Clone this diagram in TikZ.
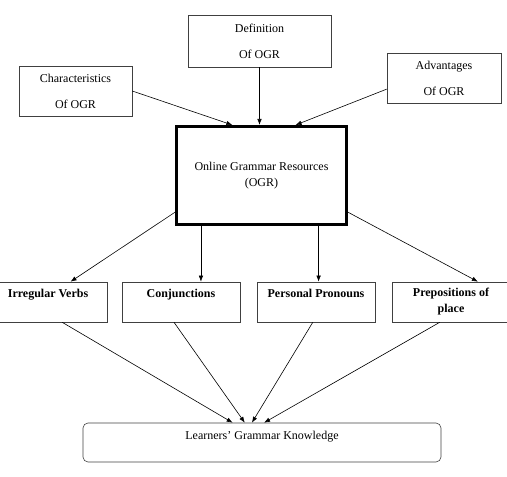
\documentclass[tikz,border=0pt]{standalone}
\usepackage{fontspec}
\setmainfont{Liberation Serif}
\usetikzlibrary{arrows.meta,calc}

\tikzset{
  box/.style={draw=black!75, line width=0.6pt, align=center, inner sep=0pt,
    font=\fontsize{12}{26}\selectfont},
  sub/.style={draw=black!75, line width=0.6pt, align=center, inner sep=0pt,
    minimum width=118pt, minimum height=40pt, font=\bfseries\fontsize{12}{16}\selectfont},
  oneline/.style={text height=16pt, text depth=24pt},
  arr/.style={-{Latex[length=6pt,width=4.5pt]}, line width=0.6pt},
}

\begin{document}
\begin{tikzpicture}[x=1pt,y=1pt]
  \useasboundingbox (0,0) rectangle (507,477);
  % top row
  \node[box, minimum width=143pt, minimum height=52pt] (def) at (259.5,436) {Definition\\Of OGR};
  \node[box, minimum width=113pt, minimum height=50pt] (char) at (75.5,386) {Characteristics\\Of OGR};
  \node[box, minimum width=114pt, minimum height=50pt] (adv) at (444,399) {Advantages\\Of OGR};
  % centre
  \node[draw, line width=3pt, minimum width=170pt, minimum height=98pt, align=center,
    font=\fontsize{12}{16}\selectfont] (ogr) at (261.5,301.5) {Online Grammar Resources\\(OGR)};
  % bottom row
  \node[sub, oneline] (iv) at (48,175) {Irregular Verbs};
  \node[sub, oneline] (conj) at (181,175) {Conjunctions};
  \node[sub, oneline] (pp) at (316,175) {Personal Pronouns};
  \node[sub] (prep) at (451,175) {Prepositions of\\place};
  \node[draw=black!75, line width=0.6pt, rounded corners=5pt, minimum width=358pt, minimum height=39pt,
    inner sep=0pt, text height=17pt, text depth=22pt, font=\fontsize{12}{14}\selectfont] (lk) at (262,34.5)
    {Learners' Grammar Knowledge};

  \draw[arr] (char.east) -- (ogr.120);
  \draw[arr] (def) -- (def |- ogr.north);
  \draw[arr] (adv.191) -- (ogr.56);

  \coordinate (c1) at ($(ogr.south west)!.15!(ogr.south east)$);
  \coordinate (c2) at ($(ogr.south west)!.83!(ogr.south east)$);
  \draw[arr] (ogr.-157) -- (iv.42);
  \draw[arr] (c1) -- (c1 |- conj.north);
  \draw[arr] (c2) -- (c2 |- pp.north);
  \draw[arr] (ogr.-23) -- (prep.37);

  \foreach \n/\a/\b in {iv/-55/146, conj/-109/131, pp/-99/117, prep/-119/84}
    \draw[arr] (\n.\a) -- (lk.\b);
\end{tikzpicture}
\end{document}
